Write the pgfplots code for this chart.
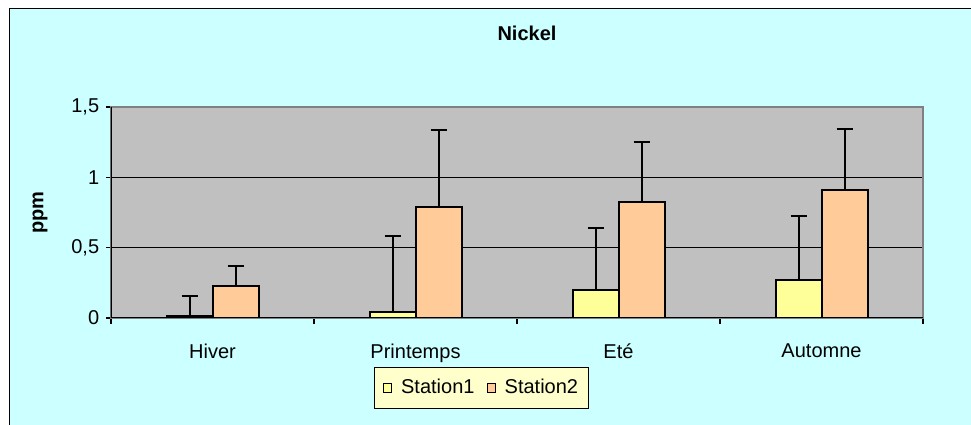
\documentclass[border=0pt]{standalone}
\usepackage{pgfplots}
\pgfplotsset{compat=1.18}
\usepackage{fontspec}
\setmainfont{Liberation Sans}
\definecolor{bgc}{HTML}{CCFFFF}
\definecolor{plotgray}{HTML}{C0C0C0}
\definecolor{sone}{HTML}{FFFF99}
\definecolor{stwo}{HTML}{FFCC99}
\definecolor{legc}{HTML}{FFFFCC}
\definecolor{bordgray}{HTML}{808080}
\begin{document}
\fontsize{20}{23}\selectfont
\begin{tikzpicture}[x=1pt,y=1pt]
\useasboundingbox (0,0) rectangle (971,425);
\fill[white] (0,0) rectangle (971,425);
\begin{scope}
\clip (0,0) rectangle (971,425);
\filldraw[fill=bgc, draw=black, line width=1pt] (9,416) rectangle (990,-20);
\end{scope}
\node[font=\bfseries] at (527pt,392pt) {Nickel};
\begin{axis}[
  at={(111pt,107pt)}, anchor=south west,
  scale only axis, width=812pt, height=211pt,
  ybar=0pt, bar width=46pt,
  xmin=-0.5, xmax=3.5, ymin=0, ymax=1.5,
  ytick={0,0.5,1,1.5},
  /pgf/number format/use comma,
  /pgf/number format/assume math mode=true,
  axis background/.style={fill=plotgray},
  ymajorgrids, major grid style={black, line width=1pt},
  xtick={0,1,2,3}, xticklabels={Hiver,Printemps,Eté,Automne},
  major x tick style={draw=none},
  minor xtick={-0.5,0.5,1.5,2.5,3.5},
  tick align=outside, tick pos=left,
  minor tick length=6pt, major tick length=5pt,
  tick style={black, line width=1.2pt},
  axis line style={draw=bordgray, line width=2pt},
  xticklabel style={yshift=-14pt},
  ylabel={\bfseries ppm},
  every axis y label/.style={at={(axis description cs:-0.0874,0.5)}, rotate=90, anchor=center},
  legend style={at={(axis description cs:0.4563,-0.3318)}, anchor=center, fill=legc, draw=black, line width=1pt, legend columns=2, inner xsep=8pt, inner ysep=10pt,
    /tikz/every odd column/.append style={column sep=7pt},
    /tikz/every even column/.append style={column sep=10pt}},
  legend image code/.code={\draw[#1, draw=black, line width=1.2pt] (0pt,-4.5pt) rectangle (8pt,4.5pt);},
]
\addplot[fill=sone, draw=black, line width=2pt,
  error bars/.cd, y dir=plus, y explicit, error mark=|,
  error bar style={line width=2pt, black},
  error mark options={mark size=8pt, line width=2pt, black}]
  coordinates {(0,0.015) +- (0,0.141) (1,0.045) +- (0,0.538) (2,0.2) +- (0,0.44) (3,0.27) +- (0,0.453)};
\addplot[fill=stwo, draw=black, line width=2pt,
  error bars/.cd, y dir=plus, y explicit, error mark=|,
  error bar style={line width=2pt, black},
  error mark options={mark size=8pt, line width=2pt, black}]
  coordinates {(0,0.227) +- (0,0.143) (1,0.79) +- (0,0.544) (2,0.822) +- (0,0.427) (3,0.907) +- (0,0.438)};
\legend{Station1,Station2}
\draw[black, line width=2pt] (rel axis cs:0,1) -- (rel axis cs:0,0) -- (rel axis cs:1,0);
\end{axis}
\end{tikzpicture}
\end{document}
